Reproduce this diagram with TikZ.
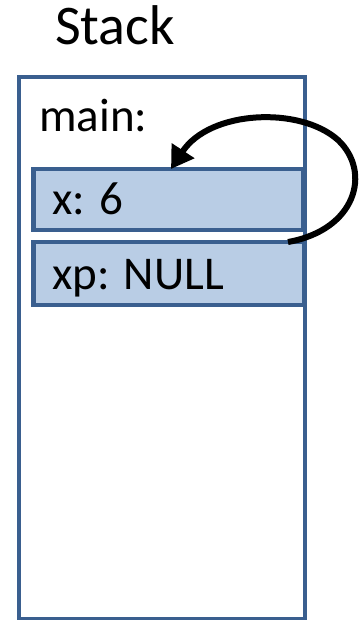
\documentclass[tikz,border=0pt]{standalone}
\usepackage{fontspec}
\setmainfont{Carlito}
\usetikzlibrary{arrows.meta,calc}
\definecolor{frameblue}{HTML}{3A5F8F}
\definecolor{cellfill}{HTML}{B9CDE5}
\tikzset{
  frame/.style={draw=frameblue, line width=4.5pt, outer sep=0pt, inner sep=0pt, anchor=south west},
  cell/.style={frame, fill=cellfill},
  label/.style={anchor=base west, inner sep=0pt, font=\fontsize{47}{50}\selectfont},
  ptr/.style={line width=6pt, -{Triangle[length=22pt,width=26pt]}}
}
\begin{document}
\begin{tikzpicture}[x=1pt,y=1pt]
\useasboundingbox (0,0) rectangle (361,620);
\node[frame, minimum width=286pt, minimum height=542pt] (stack) at (19,1) {};
\node[cell, minimum width=270pt, minimum height=61pt] (x) at (33.5,390) {};
\node[cell, minimum width=270.5pt, minimum height=63pt] (xp) at (33.5,315) {};
\node[anchor=base west, inner sep=0pt, font=\fontsize{56}{60}\selectfont] (title) at (55,575) {Stack};
\node[label] (mainlbl) at (39,488) {main:};
\node[label] (xlbl) at (52,405) {x: 6};
\node[label] (xplbl) at (52,330) {xp: NULL};
\draw[ptr] ([xshift=-16pt]xp.north east) .. controls (356,390) and (372,448) .. (338,480)
  .. controls (300,514) and (210,510) .. ([xshift=137.5pt]x.north west);
\end{tikzpicture}
\end{document}
